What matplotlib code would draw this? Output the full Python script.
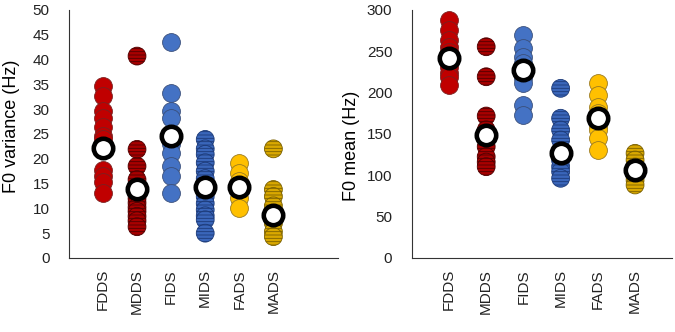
import matplotlib.pyplot as plt

plt.rcParams['font.family'] = ['Liberation Sans', 'DejaVu Sans']
plt.rcParams['hatch.linewidth'] = 0.6

groups = ['FDDS', 'MDDS', 'FIDS', 'MIDS', 'FADS', 'MADS']

# F0 variance (Hz)
var_points = [
    [34.7, 32.7, 29.7, 28.3, 26.5, 24.6, 23.9, 17.8, 16.5, 15.4, 13.1],
    [40.7, 21.9, 18.5, 15.8, 12.0, 11.1, 10.2, 9.4, 8.4, 7.5, 6.3],
    [43.5, 33.3, 29.6, 28.3, 23.0, 21.2, 18.5, 16.5, 13.1],
    [23.9, 22.0, 20.9, 19.2, 17.5, 16.0, 13.5, 12.4, 11.0, 9.7, 8.5, 7.7, 5.0],
    [19.2, 17.1, 15.5, 13.5, 12.1, 10.1],
    [22.0, 13.8, 12.4, 10.5, 7.0, 5.3, 4.3],
]
var_means = [22.2, 13.9, 24.6, 14.4, 14.4, 8.7]

# F0 mean (Hz)
mean_points = [
    [287.8, 275.7, 263.6, 255.5, 249.5, 241.0, 231.3, 223.3, 219.3, 209.2],
    [255.5, 219.2, 171.7, 155.0, 134.6, 122.5, 116.0, 110.4],
    [269.6, 253.6, 243.4, 235.4, 230.0, 217.3, 211.2, 185.0, 172.9],
    [205.2, 169.0, 154.8, 142.7, 130.0, 118.0, 110.4, 104.4, 96.4],
    [211.2, 197.1, 183.0, 175.0, 160.0, 154.8, 144.7, 130.6],
    [126.6, 118.5, 110.0, 100.0, 94.3, 88.3],
]
mean_means = [241.5, 148.7, 227.3, 126.6, 168.9, 106.4]

colors = ['#C00000', '#A80000', '#4472C4', '#3A66BA', '#FFC000', '#D9A800']
edges = ['#7a2020', '#500000', '#3a4f7a', '#1c3a78', '#9a7a20', '#7a6000']
hatches = [None, '-----', None, '-----', None, '-----']

fig = plt.figure(figsize=(6.75, 3.32), dpi=100)
ax1 = fig.add_axes([0.102, 0.223, 0.399, 0.747])
ax2 = fig.add_axes([0.610, 0.223, 0.386, 0.747])


def draw(ax, pts, means, ylim, step, xmax, label, lab_xy):
    for i, g in enumerate(groups):
        x = [i + 1] * len(pts[i])
        ax.scatter(x, pts[i], s=165, c=colors[i], edgecolors=edges[i],
                   linewidths=0.6, hatch=hatches[i], zorder=2)
    ax.plot(range(1, 7), means, linestyle='none', marker='o', markersize=14,
            markerfacecolor='white', markeredgecolor='black',
            markeredgewidth=3.3, zorder=3)
    ax.set_xlim(0, xmax)
    ax.set_ylim(*ylim)
    ax.set_yticks(range(ylim[0], ylim[1] + 1, step))
    ax.set_xticks(range(1, 7))
    ax.set_xticklabels(groups, rotation=90, fontsize=11)
    ax.tick_params(axis='both', length=0, labelsize=11, colors='#222222')
    ax.tick_params(axis='y', pad=14)
    ax.tick_params(axis='x', pad=8)
    for s in ['top', 'right']:
        ax.spines[s].set_visible(False)
    for s in ['left', 'bottom']:
        ax.spines[s].set_linewidth(0.8)
        ax.spines[s].set_color('#333333')
    ax.set_ylabel(label, fontsize=13)
    ax.yaxis.set_label_coords(*lab_xy)


draw(ax1, var_points, var_means, (0, 50), 5, 7.9, 'F0 variance (Hz)', (-0.18, 0.53))
draw(ax2, mean_points, mean_means, (0, 300), 50, 7.0, 'F0 mean (Hz)', (-0.20, 0.45))

plt.savefig('out.png', dpi=100)
